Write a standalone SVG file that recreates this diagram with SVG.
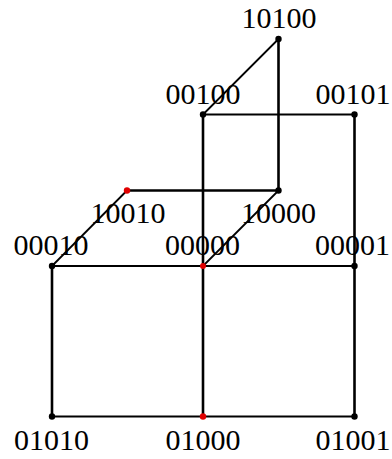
<svg xmlns="http://www.w3.org/2000/svg" width="392" height="459" viewBox="0 0 392 459">
<style>
.e{stroke:#000;stroke-width:2.6;fill:none}
.h{stroke:#000;stroke-width:1.8;fill:none}
.d{fill:#000}
.r{fill:#e00000}
.t{font-family:"Liberation Serif","Times New Roman",Times,serif;font-size:30px;fill:#000;text-anchor:middle}
</style>
<rect width="392" height="459" fill="#fff"/>
<g id="edges">
<line class="h" x1="278.5" y1="39" x2="203" y2="114.5"/>
<line class="e" x1="278.5" y1="39" x2="278.5" y2="190.5"/>
<line class="h" x1="203" y1="114.5" x2="354.5" y2="114.5"/>
<line class="e" x1="203" y1="114.5" x2="203" y2="266"/>
<line class="e" x1="354.5" y1="114.5" x2="354.5" y2="266"/>
<line class="e" x1="127" y1="190.5" x2="278.5" y2="190.5"/>
<line class="h" x1="127" y1="190.5" x2="52" y2="266"/>
<line class="h" x1="278.5" y1="190.5" x2="203" y2="266"/>
<line class="h" x1="52" y1="266" x2="354.5" y2="266"/>
<line class="e" x1="52" y1="266" x2="52" y2="416.5"/>
<line class="e" x1="203" y1="266" x2="203" y2="416.5"/>
<line class="e" x1="354.5" y1="266" x2="354.5" y2="416.5"/>
<line class="h" x1="52" y1="416.5" x2="354.5" y2="416.5"/>
</g>
<g id="n10100"><circle class="d" cx="278.5" cy="39" r="3.2"/><text class="t" font-family="Liberation Serif" x="279" y="27.5">10100</text></g>
<g id="n00100"><circle class="d" cx="203" cy="114.5" r="3.2"/><text class="t" font-family="Liberation Serif" x="203" y="104">00100</text></g>
<g id="n00101"><circle class="d" cx="354.5" cy="114.5" r="3.2"/><text class="t" font-family="Liberation Serif" x="353" y="104">00101</text></g>
<g id="n10010"><circle class="r" cx="127" cy="190.5" r="3.2"/><text class="t" font-family="Liberation Serif" x="128" y="223">10010</text></g>
<g id="n10000"><circle class="d" cx="278.5" cy="190.5" r="3.2"/><text class="t" font-family="Liberation Serif" x="278.5" y="223">10000</text></g>
<g id="n00010"><circle class="d" cx="52" cy="266" r="3.2"/><text class="t" font-family="Liberation Serif" x="51" y="255">00010</text></g>
<g id="n00000"><circle class="r" cx="203" cy="266" r="3"/><text class="t" font-family="Liberation Serif" x="202.5" y="255">00000</text></g>
<g id="n00001"><circle class="d" cx="354.5" cy="266" r="3.2"/><text class="t" font-family="Liberation Serif" x="352.5" y="255">00001</text></g>
<g id="n01010"><circle class="d" cx="52" cy="416.5" r="3.2"/><text class="t" font-family="Liberation Serif" x="51.5" y="450">01010</text></g>
<g id="n01000"><circle class="r" cx="203" cy="416.5" r="3.2"/><text class="t" font-family="Liberation Serif" x="203" y="450">01000</text></g>
<g id="n01001"><circle class="d" cx="354.5" cy="416.5" r="3.2"/><text class="t" font-family="Liberation Serif" x="353" y="450">01001</text></g>
</svg>
